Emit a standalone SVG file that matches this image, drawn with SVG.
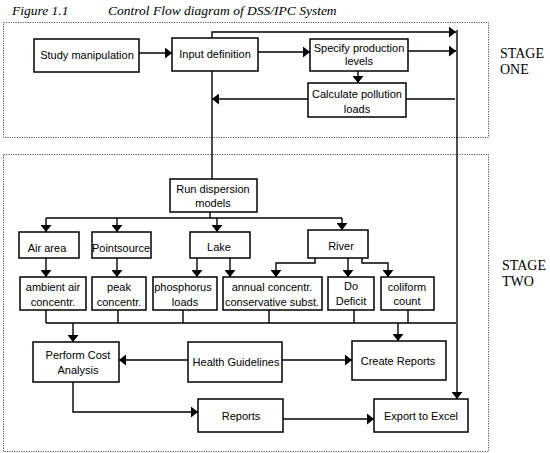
<svg xmlns="http://www.w3.org/2000/svg" width="550" height="453" viewBox="0 0 550 453">
<style>
.stage{fill:none;stroke:#555;stroke-width:1;stroke-dasharray:1.2 1.2}
.box{fill:#fff;stroke:#000;stroke-width:1.5}
.t{font-family:"Liberation Sans",Arial,sans-serif;font-size:11px;fill:#000;text-anchor:middle}
.st{font-family:"Liberation Serif","Times New Roman",serif;font-size:14px;fill:#000}
.ti{font-family:"Liberation Serif","Times New Roman",serif;font-size:13.5px;font-style:italic;fill:#000}
.c path{fill:none;stroke:#000;stroke-width:1.4}
</style>
<defs>
<marker id="a" viewBox="0 0 10 12" refX="10" refY="6" markerWidth="7" markerHeight="11" markerUnits="userSpaceOnUse" orient="auto" preserveAspectRatio="none"><path d="M0,0L10,6L0,12z" fill="#000"/></marker>
</defs>
<rect width="550" height="453" fill="#fff"/>
<text class="ti" x="12" y="15">Figure 1.1</text>
<text class="ti" x="108" y="15">Control Flow diagram of DSS/IPC System</text>
<rect class="stage" x="3.5" y="22.5" width="485" height="115"/>
<rect class="stage" x="3.5" y="154.5" width="485" height="297"/>
<text class="st" x="500" y="58">STAGE</text>
<text class="st" x="500" y="74">ONE</text>
<text class="st" x="502" y="270">STAGE</text>
<text class="st" x="502" y="286">TWO</text>
<g class="c">
<path d="M139,53H172" marker-end="url(#a)"/>
<path d="M258,52H310" marker-end="url(#a)"/>
<path d="M212,38V32H456" marker-end="url(#a)"/>
<path d="M408,51H456" marker-end="url(#a)"/>
<path d="M358,71V83" marker-end="url(#a)"/>
<path d="M308,99H212" marker-end="url(#a)"/>
<path d="M406,99H455"/>
<path d="M457,30V399" marker-end="url(#a)"/>
<path d="M212,71V179"/>
<path d="M210,212V218M46,218H342"/>
<path d="M46,218V232" marker-end="url(#a)"/>
<path d="M117,218V232" marker-end="url(#a)"/>
<path d="M217,218V232" marker-end="url(#a)"/>
<path d="M342,218V230" marker-end="url(#a)"/>
<path d="M46,258V277" marker-end="url(#a)"/>
<path d="M117,258V277" marker-end="url(#a)"/>
<path d="M197,258V277" marker-end="url(#a)"/>
<path d="M230,258V277" marker-end="url(#a)"/>
<path d="M315,258V263H276V277" marker-end="url(#a)"/>
<path d="M348,258V277" marker-end="url(#a)"/>
<path d="M362,258V263H388V277" marker-end="url(#a)"/>
<path d="M46,310V323M118,310V323M183,310V323M269,310V323M354,310V323M408,310V323M46,323H456"/>
<path d="M73,323V342" marker-end="url(#a)"/>
<path d="M398,323V341" marker-end="url(#a)"/>
<path d="M188,360H119" marker-end="url(#a)"/>
<path d="M282,360H352" marker-end="url(#a)"/>
<path d="M73,382V412H198" marker-end="url(#a)"/>
<path d="M283,419H374" marker-end="url(#a)"/>
</g>
<g id="study"><rect class="box" x="34" y="39" width="105" height="33"/><text class="t" x="87" y="59">Study manipulation</text></g>
<g id="input"><rect class="box" x="172" y="38" width="86" height="33"/><text class="t" x="215" y="58">Input definition</text></g>
<g id="specify"><rect class="box" x="310" y="39" width="98" height="32"/><text class="t" x="359" y="52">Specify production</text><text class="t" x="359" y="65">levels</text></g>
<g id="calculate"><rect class="box" x="308" y="83" width="98" height="34"/><text class="t" x="357" y="98">Calculate pollution</text><text class="t" x="357" y="113">loads</text></g>
<g id="run"><rect class="box" x="170" y="179" width="87" height="33"/><text class="t" x="213" y="193">Run dispersion</text><text class="t" x="213" y="207">models</text></g>
<g id="air"><rect class="box" x="19" y="232" width="60" height="26"/><text class="t" x="47" y="252">Air area</text></g>
<g id="point"><rect class="box" x="92" y="232" width="59" height="26"/><text class="t" x="121" y="252">Pointsource</text></g>
<g id="lake"><rect class="box" x="190" y="232" width="60" height="26"/><text class="t" x="219" y="251">Lake</text></g>
<g id="river"><rect class="box" x="308" y="230" width="60" height="28"/><text class="t" x="341" y="250">River</text></g>
<g id="ambient"><rect class="box" x="20" y="277" width="66" height="33"/><text class="t" x="53" y="291">ambient air</text><text class="t" x="53" y="306">concentr.</text></g>
<g id="peak"><rect class="box" x="92" y="277" width="54" height="33"/><text class="t" x="119" y="291">peak</text><text class="t" x="119" y="306">concentr.</text></g>
<g id="phos"><rect class="box" x="153" y="277" width="64" height="33"/><text class="t" x="183" y="291">phosphorus</text><text class="t" x="185" y="306">loads</text></g>
<g id="annual"><rect class="box" x="223" y="277" width="99" height="33"/><text class="t" x="272" y="291">annual concentr.</text><text class="t" x="272" y="306">conservative subst.</text></g>
<g id="deficit"><rect class="box" x="328" y="277" width="46" height="33"/><text class="t" x="351" y="290">Do</text><text class="t" x="351" y="305">Deficit</text></g>
<g id="coliform"><rect class="box" x="381" y="277" width="53" height="33"/><text class="t" x="407" y="291">coliform</text><text class="t" x="407" y="305">count</text></g>
<g id="perform"><rect class="box" x="33" y="342" width="86" height="40"/><text class="t" x="78" y="359">Perform Cost</text><text class="t" x="78" y="374">Analysis</text></g>
<g id="health"><rect class="box" x="188" y="342" width="94" height="40"/><text class="t" x="236" y="366">Health Guidelines</text></g>
<g id="create"><rect class="box" x="352" y="341" width="94" height="39"/><text class="t" x="398" y="365">Create Reports</text></g>
<g id="reports"><rect class="box" x="198" y="399" width="85" height="33"/><text class="t" x="241" y="420">Reports</text></g>
<g id="export"><rect class="box" x="374" y="399" width="94" height="33"/><text class="t" x="421" y="420">Export to Excel</text></g>
</svg>
